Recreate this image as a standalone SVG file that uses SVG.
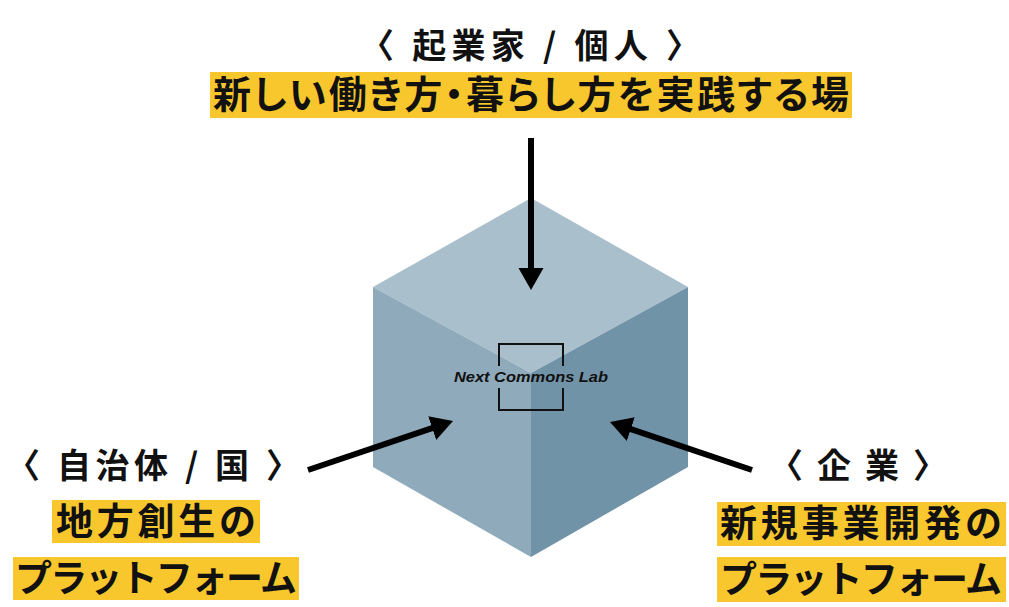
<svg xmlns="http://www.w3.org/2000/svg" width="1009" height="607" viewBox="0 0 1009 607">
<style>
.jp{font-family:"Noto Sans CJK JP","Noto Sans",sans-serif;font-weight:700;fill:#111;}
.hl{fill:#f8c72e;}
.arrow{stroke:#000;stroke-width:6;fill:none;marker-end:url(#ah);}
</style>
<defs>
<marker id="ah" markerUnits="userSpaceOnUse" markerWidth="24" markerHeight="26" refX="7" refY="12.5" orient="auto" viewBox="0 0 24 26">
<path d="M0,0 L22,12.5 L0,25 z" fill="#000"/>
</marker>
</defs>
<rect width="1009" height="607" fill="#fff"/>
<g id="cube">
<polygon points="531,198 688,287 531,373 373,287" fill="#a9bfcc"/>
<polygon points="373,287 531,373 531,557 373,467" fill="#8faabb"/>
<polygon points="531,373 688,287 688,467 531,557" fill="#7193a8"/>
</g>
<g id="logo">
<path d="M499,366 V344 H563 V366 M499,388 V410 H563 V388" fill="none" stroke="#111" stroke-width="2"/>
<text x="531" y="382" text-anchor="middle" font-family="Liberation Sans, Arial, sans-serif" font-weight="700" font-style="italic" font-size="15" textLength="154" lengthAdjust="spacingAndGlyphs" fill="#111">Next Commons Lab</text>
</g>
<g id="top-node">
<text class="jp" x="530" y="58" text-anchor="middle" font-size="34" textLength="340" lengthAdjust="spacing">〈 起業家 / 個人 〉</text>
<rect class="hl" x="210" y="72" width="642" height="46"/>
<text class="jp" x="531" y="108" text-anchor="middle" font-size="38" textLength="636" lengthAdjust="spacing" style="font-feature-settings:'palt'">新しい働き方・暮らし方を実践する場</text>
</g>
<g id="left-node">
<text class="jp" x="153" y="478" text-anchor="middle" font-size="34" textLength="294" lengthAdjust="spacing">〈 自治体 / 国 〉</text>
<rect class="hl" x="52" y="500" width="208" height="43"/>
<text class="jp" x="156" y="535" text-anchor="middle" font-size="37" textLength="200" lengthAdjust="spacing">地方創生の</text>
<rect class="hl" x="13" y="557" width="286" height="43"/>
<text class="jp" x="156" y="592" text-anchor="middle" font-size="37" textLength="282" lengthAdjust="spacing">プラットフォーム</text>
</g>
<g id="right-node">
<text class="jp" x="858" y="478" text-anchor="middle" font-size="34" textLength="178" lengthAdjust="spacing">〈 企 業 〉</text>
<rect class="hl" x="717" y="502" width="289" height="44"/>
<text class="jp" x="861" y="537" text-anchor="middle" font-size="37" textLength="282" lengthAdjust="spacing">新規事業開発の</text>
<rect class="hl" x="717" y="557" width="289" height="45"/>
<text class="jp" x="861" y="593" text-anchor="middle" font-size="37" textLength="282" lengthAdjust="spacing">プラットフォーム</text>
</g>
<g id="connectors">
<line class="arrow" x1="531" y1="138" x2="531" y2="275"/>
<line class="arrow" x1="308" y1="470" x2="438.8" y2="425.8"/>
<line class="arrow" x1="752" y1="470" x2="624.2" y2="426.8"/>
</g>
</svg>
